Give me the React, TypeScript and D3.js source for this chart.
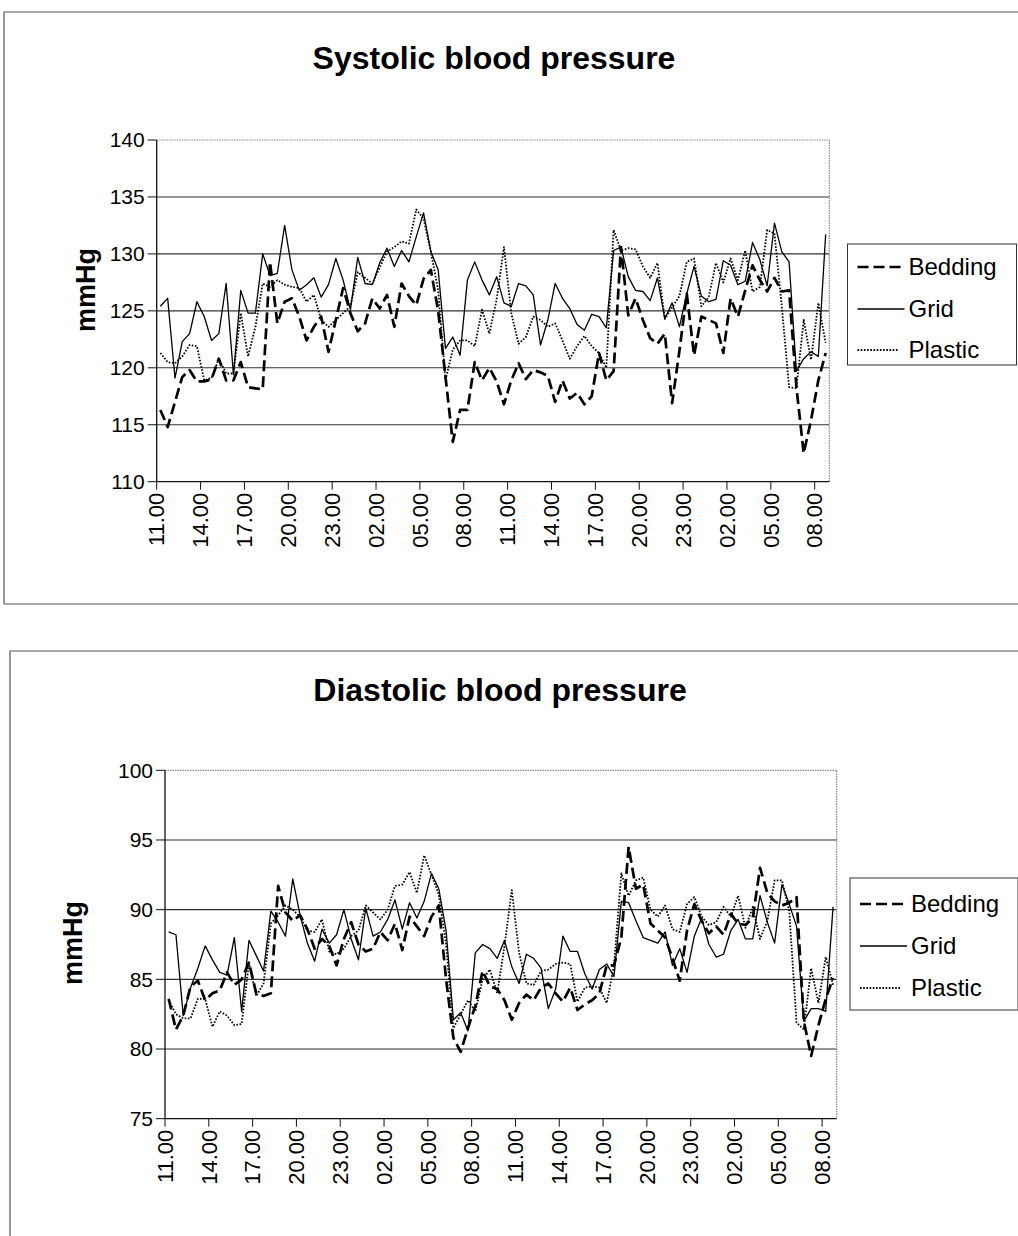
import React from 'react'
import * as d3 from 'd3'

// half-hour readings, 11.00 on day 1 to 08.30 on day 3
const times = d3.range(92).map(i => {
  const m = 11 * 60 + i * 30
  const h = Math.floor(m / 60) % 24
  return `${String(h).padStart(2, '0')}.${m % 60 === 0 ? '00' : '30'}`
})
const tickEvery = 6

const seriesNames = ['Bedding', 'Grid', 'Plastic']

const sysBedding = [
  116.3, 114.8, 117.0, 119.2, 119.8, 118.8, 118.8, 119.0, 120.8, 118.9, 118.9, 120.5, 118.3, 118.2, 118.1, 129.3,
  123.9, 125.8, 126.1, 124.5, 122.4, 123.6, 124.5, 121.4, 124.2, 127.0, 124.8, 123.2, 123.9, 126.1, 125.2, 126.4,
  123.6, 127.4, 126.3, 125.5, 127.8, 128.6, 125.0, 119.2, 113.5, 116.3, 116.3, 120.5, 118.9, 120.0, 118.8, 116.8,
  118.9, 120.4, 119.0, 119.8, 119.6, 119.3, 117.0, 118.9, 117.3, 117.8, 116.8, 117.5, 121.3, 118.9, 119.7, 130.6,
  124.6, 126.1, 124.2, 122.6, 122.1, 123.0, 116.9, 121.5, 126.5, 121.1, 124.5, 124.2, 123.9, 121.3, 126.1, 124.5,
  126.8, 129.0, 127.7, 126.7, 127.9, 126.7, 126.8, 118.3, 112.5, 115.4, 118.9, 121.3,
]
const sysGrid = [
  125.4, 126.1, 119.1, 122.3, 123.0, 125.8, 124.5, 122.4, 123.0, 127.4, 119.4, 126.8, 124.8, 124.8, 130.0, 128.1,
  128.3, 132.5, 128.6, 126.8, 127.3, 127.9, 126.2, 127.3, 129.6, 127.7, 125.1, 129.7, 127.4, 127.3, 129.2, 130.5,
  128.9, 130.3, 129.3, 131.5, 133.6, 130.2, 128.6, 121.7, 122.7, 121.1, 127.7, 129.3, 127.7, 126.4, 128.0, 125.7,
  125.4, 127.4, 127.2, 126.4, 122.0, 124.2, 127.4, 126.1, 125.2, 123.8, 123.3, 124.7, 124.5, 123.5, 130.3, 130.6,
  128.0, 126.8, 126.7, 125.9, 127.9, 124.3, 125.7, 123.6, 126.5, 128.9, 126.3, 125.8, 126.0, 129.4, 129.0, 127.3,
  127.6, 131.0, 129.5, 127.2, 132.7, 130.2, 129.3, 119.7, 120.8, 121.4, 121.0, 131.7,
]
const sysPlastic = [
  121.3, 120.5, 120.4, 121.0, 122.0, 121.9, 118.9, 119.1, 120.8, 119.5, 119.5, 124.8, 121.0, 123.6, 127.4, 127.1,
  127.7, 127.3, 127.1, 127.0, 125.8, 126.4, 124.2, 123.6, 124.2, 124.8, 125.4, 128.4, 127.9, 127.4, 128.8, 130.2,
  130.6, 131.1, 130.9, 133.9, 133.1, 130.2, 126.8, 118.9, 121.6, 122.4, 122.4, 121.9, 125.1, 123.0, 126.0, 130.6,
  124.8, 122.1, 122.7, 124.5, 124.2, 123.6, 123.9, 122.4, 120.8, 121.9, 122.8, 121.9, 121.3, 120.0, 132.1, 130.3,
  130.5, 130.4, 128.9, 127.9, 129.2, 124.3, 125.3, 126.3, 129.3, 129.6, 125.4, 126.2, 129.2, 127.5, 129.6, 127.7,
  130.3, 126.7, 127.1, 132.1, 131.8, 125.4, 118.3, 118.2, 124.2, 120.7, 125.7, 122.2,
]

const diaBedding = [
  83.6, 81.4, 82.4, 84.5, 84.9, 83.5, 84.0, 84.2, 85.5, 84.6, 85.0, 86.2, 84.0, 83.8, 84.0, 91.7,
  89.8, 89.2, 89.6, 88.6, 87.2, 87.9, 87.4, 86.0, 87.9, 89.1, 87.5, 87.0, 87.2, 88.4, 87.8, 89.0,
  87.1, 89.5, 88.8, 88.1, 89.5, 90.3, 85.0, 80.8, 79.8, 81.5, 83.1, 85.6, 84.5, 84.3, 83.5, 82.1,
  83.3, 83.9, 83.5, 84.4, 84.7, 84.0, 83.4, 84.4, 82.8, 83.2, 83.5, 84.0, 86.0, 86.0, 88.0, 94.5,
  91.5, 91.8, 89.0, 88.5, 88.0, 86.5, 84.9, 88.5, 90.4, 89.2, 88.3, 88.8, 88.2, 89.7, 89.0, 88.9,
  89.4, 93.0, 91.2, 90.6, 90.3, 90.5, 90.9, 82.0, 79.5, 81.7, 83.6, 85.1,
]
const diaGrid = [
  88.4, 88.2, 82.4, 84.4, 85.8, 87.4, 86.4, 85.5, 85.3, 88.0, 82.7, 87.8, 86.7, 85.6, 89.9, 89.1,
  88.1, 92.2, 89.6, 87.6, 86.3, 88.6, 87.6, 88.2, 90.0, 87.9, 86.4, 90.1, 88.1, 88.4, 89.3, 90.7,
  88.6, 90.5, 89.4, 90.6, 92.6, 91.5, 88.5, 82.1, 82.6, 81.3, 86.9, 87.5, 87.2, 86.5, 87.8, 85.9,
  84.7, 86.8, 86.5, 85.8, 82.9, 84.3, 88.1, 87.0, 87.0, 85.4, 84.3, 85.7, 86.1, 85.2, 90.6, 90.5,
  89.2, 88.0, 87.8, 87.6, 88.4, 86.0, 87.2, 85.5, 88.1, 89.4, 87.5, 86.6, 86.8, 88.5, 89.3, 87.9,
  87.9, 91.0, 89.1, 87.6, 91.8, 90.4, 88.8, 82.0, 82.9, 82.9, 82.7, 90.2,
]
const diaPlastic = [
  83.5, 82.5, 82.2, 82.2, 83.6, 83.6, 81.6, 82.7, 82.4, 81.7, 81.8, 86.2, 83.8, 84.7, 89.0, 89.6,
  90.3, 90.0, 89.5, 88.5, 88.4, 89.3, 87.0, 86.8, 87.2, 88.1, 88.5, 90.3, 89.8, 89.3, 90.0, 91.7,
  91.8, 92.7, 91.2, 93.9, 92.5, 91.1, 87.5, 81.5, 82.5, 83.5, 82.7, 85.0, 85.7, 84.0, 87.4, 91.4,
  86.9, 84.7, 84.6, 85.6, 85.7, 86.1, 86.2, 86.1, 83.4, 84.4, 84.5, 84.4, 83.3, 86.0, 92.6, 91.0,
  92.1, 92.3, 90.0, 89.5, 90.3, 88.6, 88.4, 90.4, 90.9, 89.5, 88.9, 89.1, 90.2, 89.5, 91.0, 88.7,
  90.2, 87.9, 89.2, 92.1, 92.1, 89.9, 81.9, 81.4, 85.8, 83.3, 86.6, 84.6,
]

const sysTicks = [110, 115, 120, 125, 130, 135, 140]
const diaTicks = [75, 80, 85, 90, 95, 100]

const font = '"Liberation Sans", Arial, sans-serif'

const lineStyle: Record<string, { w: number; dash?: string }> = {
  Bedding: { w: 2.7, dash: '11,5' },
  Grid: { w: 1.3 },
  Plastic: { w: 1.8, dash: '1.6,1.6' },
}

function Chart(props: any) {
  const { title, titleX, titleY, frame, plot, yDomain, yTicks, series, axisLabel, legend } = props

  // category index domain, since the clock labels repeat from day to day
  const x = d3.scaleBand<number>().domain(d3.range(times.length)).range([plot.left, plot.right])
  const y = d3.scaleLinear().domain(yDomain).range([plot.bottom, plot.top])
  const bw = x.bandwidth()
  const line = d3
    .line<number>()
    .x((d, i) => (x(i) as number) + bw / 2)
    .y(d => y(d))

  const tickIdx = d3.range(0, times.length, tickEvery)

  return (
    <g>
      {/* outer frame */}
      <path
        d={`M${frame.x},${frame.bottom} V${frame.y} H1030 M${frame.x},${frame.bottom} H1030`}
        fill="none"
        stroke="#555"
        strokeWidth={1.2}
      />
      <text x={titleX} y={titleY} textAnchor="middle" fontFamily={font} fontWeight="bold" fontSize={32}>
        {title}
      </text>

      {/* gridlines */}
      {yTicks.slice(1, -1).map((t: number) => (
        <line key={t} x1={plot.left} x2={plot.right} y1={y(t)} y2={y(t)} stroke="#333" strokeWidth={1.1} />
      ))}
      {/* plot area border */}
      <path
        d={`M${plot.left},${plot.top} H${plot.right} V${plot.bottom}`}
        fill="none"
        stroke="#888"
        strokeWidth={1.2}
        strokeDasharray="1.5,1"
      />

      {/* y axis */}
      <line x1={plot.left} x2={plot.left} y1={plot.top} y2={plot.bottom} stroke="#111" strokeWidth={1.3} />
      {yTicks.map((t: number) => (
        <g key={t}>
          <line x1={plot.left - 9} x2={plot.left} y1={y(t)} y2={y(t)} stroke="#111" strokeWidth={1} />
          <text
            x={plot.left - 12}
            y={y(t)}
            dy="0.35em"
            textAnchor="end"
            fontFamily={font}
            fontSize={21}
          >
            {t}
          </text>
        </g>
      ))}
      <text
        transform={`translate(${axisLabel.x},${axisLabel.y}) rotate(-90)`}
        textAnchor="middle"
        dy="0.35em"
        fontFamily={font}
        fontWeight="bold"
        fontSize={27}
      >
        mmHg
      </text>

      {/* x axis */}
      <line x1={plot.left} x2={plot.right} y1={plot.bottom} y2={plot.bottom} stroke="#111" strokeWidth={1.3} />
      {tickIdx.map(i => {
        const px = x(i) as number
        return (
          <g key={i}>
            <line x1={px} x2={px} y1={plot.bottom} y2={plot.bottom + 8} stroke="#111" strokeWidth={1} />
            <text
              transform={`translate(${px},${plot.bottom + 11}) rotate(-90)`}
              textAnchor="end"
              dy="0.35em"
              fontFamily={font}
              fontSize={22}
            >
              {times[i]}
            </text>
          </g>
        )
      })}

      {/* series */}
      {['Plastic', 'Grid', 'Bedding'].map(name => (
        <path
          key={name}
          d={line(series[name]) || ''}
          fill="none"
          stroke="#000"
          strokeWidth={lineStyle[name].w}
          strokeDasharray={lineStyle[name].dash}
          strokeLinejoin="round"
        />
      ))}

      {/* legend */}
      <rect x={legend.x} y={legend.y} width={legend.w} height={legend.h} fill="#fff" stroke="#333" strokeWidth={1} />
      {seriesNames.map((name, i) => {
        const ly = legend.rows[i]
        return (
          <g key={name}>
            <line
              x1={legend.x + 10}
              x2={legend.x + (name === 'Plastic' ? 51 : 57)}
              y1={ly}
              y2={ly}
              stroke="#000"
              strokeWidth={lineStyle[name].w}
              strokeDasharray={lineStyle[name].dash}
            />
            <text x={legend.x + 61} y={ly} dy="0.35em" fontFamily={font} fontSize={24}>
              {name}
            </text>
          </g>
        )
      })}
    </g>
  )
}

export default function App() {
  return (
    <div style={{ position: 'absolute', left: 0, top: 0 }}>
      <svg width={1018} height={1236} style={{ display: 'block', background: '#fff' }}>
        <Chart
          title="Systolic blood pressure"
          titleX={494}
          titleY={69}
          frame={{ x: 4, y: 12, bottom: 604 }}
          plot={{ left: 156.7, right: 829.3, top: 140, bottom: 481.7 }}
          yDomain={[110, 140]}
          yTicks={sysTicks}
          series={{ Bedding: sysBedding, Grid: sysGrid, Plastic: sysPlastic }}
          axisLabel={{ x: 86, y: 290 }}
          legend={{ x: 847.5, y: 244, w: 169, h: 121, rows: [267, 309, 350] }}
        />
        <Chart
          title="Diastolic blood pressure"
          titleX={500}
          titleY={701}
          frame={{ x: 10, y: 651, bottom: 1300 }}
          plot={{ left: 165, right: 836.7, top: 770.3, bottom: 1118.7 }}
          yDomain={[75, 100]}
          yTicks={diaTicks}
          series={{ Bedding: diaBedding, Grid: diaGrid, Plastic: diaPlastic }}
          axisLabel={{ x: 73, y: 943 }}
          legend={{ x: 850, y: 878, w: 168, h: 132, rows: [904, 946, 988] }}
        />
      </svg>
    </div>
  )
}
